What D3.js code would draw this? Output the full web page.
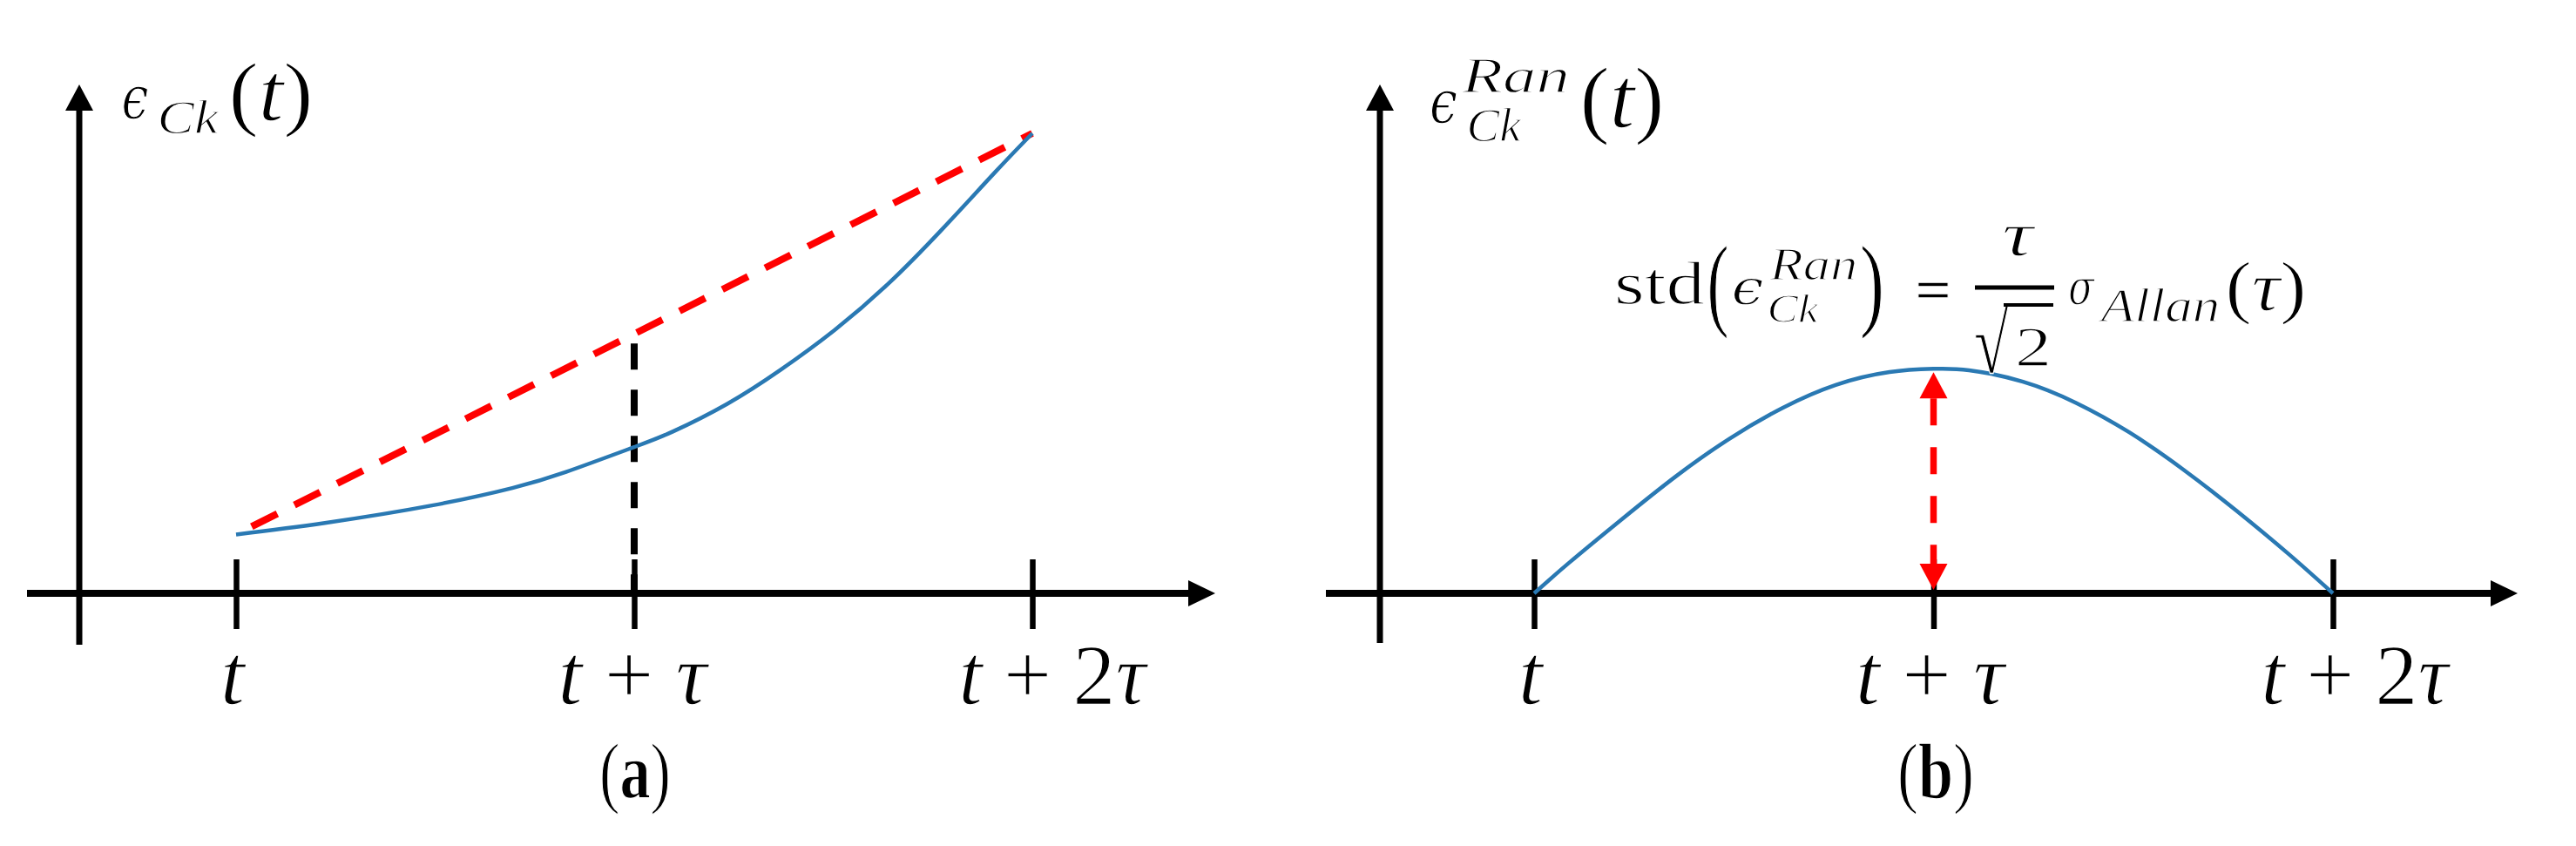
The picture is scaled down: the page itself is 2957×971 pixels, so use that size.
<!DOCTYPE html>
<html>
<head>
<meta charset="utf-8">
<script src="https://cdn.jsdelivr.net/npm/d3@7"></script>
<style>
  html, body { margin: 0; padding: 0; background: #ffffff; }
  svg { display: block; }
  text { font-family: "Liberation Serif", "DejaVu Serif", serif; fill: #000; white-space: pre;
         stroke: #fff; stroke-width: 1.3px; paint-order: fill stroke; }
  tspan.dv { font-family: "DejaVu Serif", serif; }
</style>
</head>
<body>
<script>
// ---------------- data ----------------
const tickValues = [0, 1, 2];                       // t, t+τ, t+2τ  (in units of τ)
const tickLabels = ["t", "t + τ", "t + 2τ"];
const panelLabels = ["a", "b"];

// (a) clock error with drift
const driftX = [0, 0.223, 0.492, 0.694, 0.829, 1.0, 1.098, 1.234, 1.368, 1.503, 1.637, 1.772, 1.906, 2.0];
const driftY = [1.28, 1.53, 1.91, 2.29, 2.64, 3.18, 3.52, 4.12, 4.86, 5.72, 6.72, 7.90, 9.15, 10.0];
// (a) linear chord between end points
const chordX = [0, 2];
const chordY = [1.28, 10.0];
// (b) random component
const archX = [0, 0.087, 0.221, 0.356, 0.489, 0.622, 0.755, 0.890, 1.0, 1.089, 1.224, 1.357, 1.490, 1.624, 1.758, 1.891, 2.0];
const archY = [0, 0.66, 1.62, 2.55, 3.36, 4.03, 4.53, 4.81, 4.88, 4.85, 4.60, 4.14, 3.50, 2.70, 1.80, 0.84, 0];

// ---------------- layout ----------------
const W = 2957, H = 971;
const BLUE = "#2a79b3", RED = "#ff0000";
const svg = d3.select("body").append("svg").attr("width", W).attr("height", H);
svg.append("rect").attr("width", W).attr("height", H).attr("fill", "#fff");

const panels = [
  { x0: 271, x2: 1185, left: 31, right: 1395, yAxisX: 91, yTop: 97, yBot: 740, labelDx: [-4, -2, 23], cap: 729 },
  { x0: 1761, x2: 2678, left: 1522, right: 2890, yAxisX: 1584, yTop: 97, yBot: 738, labelDx: [-4, -4, 25], cap: 2222 }
];
const Y0 = 681;
const y = d3.scaleLinear().domain([0, 10]).range([Y0, 153]);

function put(g, pieces, cx, by, size, w) {
  const t = g.append("text").attr("x", cx).attr("y", by).attr("text-anchor", "middle")
    .style("font-size", size + "px");
  pieces.forEach(p => {
    const s = t.append("tspan").text(p[0]);
    if (p[1] && p[1].includes("i")) s.style("font-style", "italic");
    if (p[1] && p[1].includes("b")) s.style("font-weight", "bold");
    if (p[1] && p[1].includes("d")) s.attr("class", "dv");
  });
  if (w) {
    const bw = t.node().getBBox().width;
    const sx = w / bw;
    t.attr("transform", `translate(${cx},0) scale(${sx},1) translate(${-cx},0)`);
  }
  return t;
}
function tokens(str) {
  const out = [];
  for (const ch of str) {
    const it = /[A-Za-zα-ωϵ]/.test(ch);
    const last = out[out.length - 1];
    if (last && (last[1] === (it ? "i" : ""))) last[0] += ch; else out.push([ch, it ? "i" : ""]);
  }
  return out;
}
function arrowHead(g, tipX, tipY, dir, len, half, fill) {
  let pts;
  if (dir === "up") pts = [[tipX, tipY], [tipX - half, tipY + len], [tipX + half, tipY + len]];
  else if (dir === "down") pts = [[tipX, tipY], [tipX - half, tipY - len], [tipX + half, tipY - len]];
  else pts = [[tipX, tipY], [tipX - len, tipY - half], [tipX - len, tipY + half]];
  g.append("path").attr("d", "M" + pts.map(p => p.join(",")).join("L") + "Z").attr("fill", fill);
}

panels.forEach((P, i) => {
  const g = svg.append("g");
  const x = d3.scaleLinear().domain([0, 2]).range([P.x0, P.x2]);
  P.x = x;

  // y axis
  g.append("line").attr("x1", P.yAxisX).attr("x2", P.yAxisX).attr("y1", P.yBot).attr("y2", P.yTop + 20)
    .attr("stroke", "#000").attr("stroke-width", 7);
  arrowHead(g, P.yAxisX, P.yTop, "up", 30, 16, "#000");

  // x axis line + arrow
  g.append("line").attr("x1", P.left).attr("x2", P.right - 20).attr("y1", Y0).attr("y2", Y0)
    .attr("stroke", "#000").attr("stroke-width", 8);
  arrowHead(g, P.right, Y0, "right", 31, 15, "#000");

  // ticks via d3 axis
  const ax = g.append("g").attr("transform", `translate(0,${Y0})`)
    .call(d3.axisBottom(x).tickValues(tickValues).tickSize(0).tickFormat(""));
  ax.select(".domain").remove();
  ax.selectAll(".tick line").attr("y1", -39).attr("y2", 41).attr("stroke", "#000").attr("stroke-width", 6.5);

  // tick labels
  tickValues.forEach((v, k) => {
    const w = [30, 174, 218][k];
    put(g, tokens(tickLabels[k]), x(v) + P.labelDx[k], 808, 100, w);
  });

  // panel caption
  put(g, [["(", ""], [panelLabels[i], "b"], [")", ""]], P.cap, 916, 90, i === 0 ? 82 : 88);
});

// ---------- panel (a) ----------
{
  const P = panels[0], x = P.x, g = svg.append("g");
  const chord = chordX.map((v, k) => [v, chordY[k]]);
  const line = d3.line().x(d => x(d[0])).y(d => y(d[1]));
  const yc = d3.interpolateNumber(chordY[0], chordY[1])(0.5);
  g.append("line").attr("x1", x(1)).attr("x2", x(1)).attr("y1", y(yc) + 11).attr("y2", Y0)
    .attr("stroke", "#000").attr("stroke-width", 8).attr("stroke-dasharray", "30,23");
  g.append("path").attr("d", line(chord)).attr("fill", "none").attr("stroke", RED)
    .attr("stroke-width", 8).attr("stroke-dasharray", "33,22").attr("stroke-dashoffset", -20);
  const drift = driftX.map((v, k) => [v, driftY[k]]);
  g.append("path").attr("d", d3.line().x(d => x(d[0])).y(d => y(d[1])).curve(d3.curveNatural)(drift))
    .attr("fill", "none").attr("stroke", BLUE).attr("stroke-width", 4.5);

  // y title  ϵ_Ck(t)
  put(g, [["ϵ", "id"]], 155, 136, 70, 31);
  put(g, [["Ck", "i"]], 216, 153, 54, 72);
  put(g, [["(", ""], ["t", "i"], [")", ""]], 311, 138, 96, 97);
}

// ---------- panel (b) ----------
{
  const P = panels[1], x = P.x, g = svg.append("g");
  const arch = archX.map((v, k) => [v, archY[k]]);
  g.append("path").attr("d", d3.line().x(d => x(d[0])).y(d => y(d[1])).curve(d3.curveNatural)(arch))
    .attr("fill", "none").attr("stroke", BLUE).attr("stroke-width", 4.5);

  // red double arrow at t+τ
  const peak = d3.max(archY);
  const top = y(peak) + 4, bot = Y0 - 4;
  g.append("line").attr("x1", x(1)).attr("x2", x(1)).attr("y1", top + 30).attr("y2", bot - 30)
    .attr("stroke", RED).attr("stroke-width", 7.5).attr("stroke-dasharray", "31,25");
  arrowHead(g, x(1), top, "up", 30, 16, RED);
  arrowHead(g, x(1), bot, "down", 30, 16, RED);

  // y title  ϵ_Ck^Ran(t)
  put(g, [["ϵ", "id"]], 1657, 141, 70, 32);
  put(g, [["Ran", "i"]], 1740, 106, 58, 125);
  put(g, [["Ck", "i"]], 1715, 162, 54, 64);
  put(g, [["(", ""], ["t", "i"], [")", ""]], 1862, 146, 100, 97);

  // formula  std(ϵ_Ck^Ran) = τ/√2 σ_Allan(τ)
  put(g, [["std", ""]], 1905, 349, 70, 104);
  put(g, [["(", ""]], 1972, 364, 118, 25);
  put(g, [["ϵ", "id"]], 2006, 349, 56, 37);
  put(g, [["Ran", "i"]], 2082, 321, 52, 102);
  put(g, [["Ck", "i"]], 2058, 370, 46, 61);
  put(g, [[")", ""]], 2149, 364, 118, 28);
  put(g, [["=", "d"]], 2219, 353, 64, 46);
  put(g, [["τ", "i"]], 2316, 293, 72, 39);
  g.append("line").attr("x1", 2267).attr("x2", 2358).attr("y1", 330).attr("y2", 330)
    .attr("stroke", "#000").attr("stroke-width", 5);
  put(g, [["√", ""]], 2286, 428, 100, 40);
  g.append("line").attr("x1", 2300).attr("x2", 2357).attr("y1", 350).attr("y2", 350)
    .attr("stroke", "#000").attr("stroke-width", 4);
  put(g, [["2", ""]], 2334, 420, 66, 42);
  put(g, [["σ", "id"]], 2389, 349, 56, 31);
  put(g, [["Allan", "i"]], 2480, 369, 54, 140);
  put(g, [["(", ""], ["τ", "i"], [")", ""]], 2601, 356, 80, 93);
}
</script>
</body>
</html>
